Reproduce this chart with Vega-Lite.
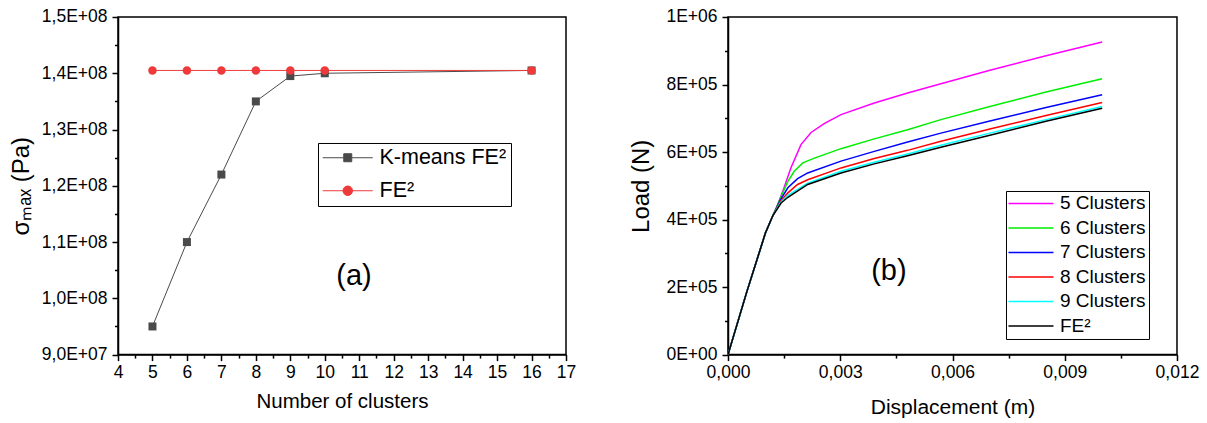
{
  "$schema": "https://vega.github.io/schema/vega-lite/v6.json",
  "background": "white",
  "padding": {"left": 8, "top": 7, "right": 0, "bottom": 0},
  "config": {
    "font": "Liberation Sans",
    "view": {"stroke": "black", "strokeWidth": 1.5},
    "axis": {
      "domainColor": "black", "domainWidth": 1.5,
      "tickColor": "black", "tickWidth": 1.5,
      "labelColor": "black", "labelFontSize": 17.5, "labelFont": "Liberation Sans",
      "titleColor": "black", "titleFontWeight": "normal", "titleFont": "Liberation Sans",
      "grid": false, "labelFlush": false, "labelOverlap": false
    },
    "legend": {"labelFont": "Liberation Sans", "labelColor": "black"}
  },
  "resolve": {"scale": {"color": "independent"}},
  "spacing": 52,
  "hconcat": [
    {
      "width": 448,
      "height": 337.6,
      "data": {"values": [
        {"n": 5, "s": 95000000, "series": "K-means FE²"},
        {"n": 6, "s": 110000000, "series": "K-means FE²"},
        {"n": 7, "s": 122000000, "series": "K-means FE²"},
        {"n": 8, "s": 135000000, "series": "K-means FE²"},
        {"n": 9, "s": 139500000, "series": "K-means FE²"},
        {"n": 10, "s": 140000000, "series": "K-means FE²"},
        {"n": 16, "s": 140500000, "series": "K-means FE²"},
        {"n": 5, "s": 140500000, "series": "FE²"},
        {"n": 6, "s": 140500000, "series": "FE²"},
        {"n": 7, "s": 140500000, "series": "FE²"},
        {"n": 8, "s": 140500000, "series": "FE²"},
        {"n": 9, "s": 140500000, "series": "FE²"},
        {"n": 10, "s": 140500000, "series": "FE²"},
        {"n": 16, "s": 140500000, "series": "FE²"}
      ]},
      "encoding": {
        "x": {"field": "n", "type": "quantitative",
          "scale": {"domain": [4, 17], "nice": false, "zero": false},
          "axis": {
            "title": "Number of clusters", "titleFontSize": 20.5, "titlePadding": 10,
            "values": [4,4.5,5,5.5,6,6.5,7,7.5,8,8.5,9,9.5,10,10.5,11,11.5,12,12.5,13,13.5,14,14.5,15,15.5,16,16.5,17],
            "labelExpr": "datum.value % 1 == 0 ? format(datum.value, 'd') : ''",
            "tickSize": {"condition": {"test": "datum.value % 1 != 0", "value": 3.5}, "value": 6},
            "labelPadding": 3
          }},
        "y": {"field": "s", "type": "quantitative",
          "scale": {"domain": [90000000, 150000000], "nice": false, "zero": false},
          "axis": {
            "title": "σₘₐₓ (Pa)", "titleFontSize": 24, "titlePadding": 8,
            "values": [90000000,95000000,100000000,105000000,110000000,115000000,120000000,125000000,130000000,135000000,140000000,145000000,150000000],
            "labelExpr": "datum.value % 10000000 != 0 ? '' : (datum.value < 100000000 ? replace(format(datum.value/10000000, '.1f'), '.', ',') + 'E+07' : replace(format(datum.value/100000000, '.1f'), '.', ',') + 'E+08')",
            "tickSize": {"condition": {"test": "datum.value % 10000000 != 0", "value": 3.5}, "value": 6},
            "labelPadding": 5
          }}
      },
      "layer": [
        {
          "mark": {"type": "line", "strokeWidth": 1},
          "encoding": {
            "color": {"field": "series", "type": "nominal",
              "scale": {"domain": ["K-means FE²", "FE²"], "range": ["#4a4a4a", "#ee3a3a"]},
              "legend": {
                "title": null, "orient": "none", "legendX": 200, "legendY": 126,
                "strokeColor": "black", "padding": 4, "labelFontSize": 21.5,
                "labelOffset": 36, "rowPadding": 10, "symbolSize": 100,
                "symbolType": "M-2,0H8", "symbolStrokeWidth": 1,
                "labelLimit": 300,
                "encode": {"symbols": {"update": {
                  "shape": {"signal": "datum.value === 'FE²' ? 'M-2,0H8M3.95,0A0.95,0.95,0,1,1,2.05,0A0.95,0.95,0,1,1,3.95,0Z' : 'M-2,0H8M2.2,-0.8H3.8V0.8H2.2Z'"},
                  "fill": {"signal": "datum.value === 'FE²' ? '#ee3a3a' : '#4a4a4a'"},
                  "stroke": {"signal": "datum.value === 'FE²' ? '#ee3a3a' : '#4a4a4a'"},
                  "strokeWidth": {"value": 1},
                  "opacity": {"value": 1}
                }}}
              }}
          }
        },
        {
          "transform": [{"filter": "datum.series === 'K-means FE²'"}],
          "mark": {"type": "point", "filled": true, "size": 64, "opacity": 1, "shape": "square", "color": "#4a4a4a"}
        },
        {
          "transform": [{"filter": "datum.series === 'FE²'"}],
          "mark": {"type": "point", "filled": true, "size": 72, "opacity": 1, "shape": "circle", "color": "#ee3a3a"}
        },
        {
          "transform": [{"filter": "datum.series === 'FE²' && datum.n == 5"}],
          "mark": {"type": "text", "fontSize": 29, "font": "Liberation Sans", "color": "black"},
          "encoding": {
            "x": {"datum": 10.85, "type": "quantitative"},
            "y": {"datum": 103900000, "type": "quantitative"},
            "text": {"value": "(a)"}
          }
        }
      ]
    },
    {
      "width": 449,
      "height": 337.6,
      "data": {"values": [
        {"d": 0, "load": 0, "curve": "5 Clusters"},
        {"d": 0.0005, "load": 185000, "curve": "5 Clusters"},
        {"d": 0.001, "load": 360000, "curve": "5 Clusters"},
        {"d": 0.0012, "load": 412000, "curve": "5 Clusters"},
        {"d": 0.00128, "load": 430000, "curve": "5 Clusters"},
        {"d": 0.0015, "load": 495000, "curve": "5 Clusters"},
        {"d": 0.00168, "load": 553000, "curve": "5 Clusters"},
        {"d": 0.00195, "load": 622000, "curve": "5 Clusters"},
        {"d": 0.00222, "load": 658000, "curve": "5 Clusters"},
        {"d": 0.00257, "load": 684000, "curve": "5 Clusters"},
        {"d": 0.00302, "load": 711000, "curve": "5 Clusters"},
        {"d": 0.00391, "load": 745000, "curve": "5 Clusters"},
        {"d": 0.0048, "load": 775000, "curve": "5 Clusters"},
        {"d": 0.00569, "load": 802000, "curve": "5 Clusters"},
        {"d": 0.007, "load": 842000, "curve": "5 Clusters"},
        {"d": 0.0085, "load": 885000, "curve": "5 Clusters"},
        {"d": 0.01, "load": 926000, "curve": "5 Clusters"},

        {"d": 0, "load": 0, "curve": "6 Clusters"},
        {"d": 0.0005, "load": 185000, "curve": "6 Clusters"},
        {"d": 0.001, "load": 360000, "curve": "6 Clusters"},
        {"d": 0.0012, "load": 412000, "curve": "6 Clusters"},
        {"d": 0.0014, "load": 463000, "curve": "6 Clusters"},
        {"d": 0.0016, "load": 513000, "curve": "6 Clusters"},
        {"d": 0.00177, "load": 543000, "curve": "6 Clusters"},
        {"d": 0.002, "load": 568000, "curve": "6 Clusters"},
        {"d": 0.00231, "load": 582000, "curve": "6 Clusters"},
        {"d": 0.00302, "load": 610000, "curve": "6 Clusters"},
        {"d": 0.00391, "load": 639000, "curve": "6 Clusters"},
        {"d": 0.0048, "load": 666000, "curve": "6 Clusters"},
        {"d": 0.00569, "load": 696000, "curve": "6 Clusters"},
        {"d": 0.007, "load": 735000, "curve": "6 Clusters"},
        {"d": 0.0085, "load": 778000, "curve": "6 Clusters"},
        {"d": 0.01, "load": 817000, "curve": "6 Clusters"},

        {"d": 0, "load": 0, "curve": "7 Clusters"},
        {"d": 0.0005, "load": 185000, "curve": "7 Clusters"},
        {"d": 0.001, "load": 360000, "curve": "7 Clusters"},
        {"d": 0.0012, "load": 412000, "curve": "7 Clusters"},
        {"d": 0.0014, "load": 458000, "curve": "7 Clusters"},
        {"d": 0.0016, "load": 494000, "curve": "7 Clusters"},
        {"d": 0.00186, "load": 521000, "curve": "7 Clusters"},
        {"d": 0.00213, "load": 538000, "curve": "7 Clusters"},
        {"d": 0.00302, "load": 573000, "curve": "7 Clusters"},
        {"d": 0.00391, "load": 602000, "curve": "7 Clusters"},
        {"d": 0.0048, "load": 630000, "curve": "7 Clusters"},
        {"d": 0.00569, "load": 656000, "curve": "7 Clusters"},
        {"d": 0.007, "load": 692000, "curve": "7 Clusters"},
        {"d": 0.0085, "load": 732000, "curve": "7 Clusters"},
        {"d": 0.01, "load": 770000, "curve": "7 Clusters"},

        {"d": 0, "load": 0, "curve": "8 Clusters"},
        {"d": 0.0005, "load": 185000, "curve": "8 Clusters"},
        {"d": 0.001, "load": 360000, "curve": "8 Clusters"},
        {"d": 0.0012, "load": 412000, "curve": "8 Clusters"},
        {"d": 0.0014, "load": 454000, "curve": "8 Clusters"},
        {"d": 0.0016, "load": 479000, "curve": "8 Clusters"},
        {"d": 0.00186, "load": 504000, "curve": "8 Clusters"},
        {"d": 0.00213, "load": 518000, "curve": "8 Clusters"},
        {"d": 0.00302, "load": 553000, "curve": "8 Clusters"},
        {"d": 0.00391, "load": 581000, "curve": "8 Clusters"},
        {"d": 0.0048, "load": 605000, "curve": "8 Clusters"},
        {"d": 0.00569, "load": 632000, "curve": "8 Clusters"},
        {"d": 0.007, "load": 668000, "curve": "8 Clusters"},
        {"d": 0.0085, "load": 708000, "curve": "8 Clusters"},
        {"d": 0.01, "load": 747000, "curve": "8 Clusters"},

        {"d": 0, "load": 0, "curve": "9 Clusters"},
        {"d": 0.0005, "load": 185000, "curve": "9 Clusters"},
        {"d": 0.001, "load": 360000, "curve": "9 Clusters"},
        {"d": 0.0012, "load": 412000, "curve": "9 Clusters"},
        {"d": 0.0014, "load": 450000, "curve": "9 Clusters"},
        {"d": 0.0016, "load": 472000, "curve": "9 Clusters"},
        {"d": 0.00213, "load": 508000, "curve": "9 Clusters"},
        {"d": 0.00302, "load": 543000, "curve": "9 Clusters"},
        {"d": 0.00391, "load": 570000, "curve": "9 Clusters"},
        {"d": 0.0048, "load": 594000, "curve": "9 Clusters"},
        {"d": 0.00569, "load": 620000, "curve": "9 Clusters"},
        {"d": 0.007, "load": 656000, "curve": "9 Clusters"},
        {"d": 0.0085, "load": 696000, "curve": "9 Clusters"},
        {"d": 0.01, "load": 735000, "curve": "9 Clusters"},

        {"d": 0, "load": 0, "curve": "FE²"},
        {"d": 0.0005, "load": 185000, "curve": "FE²"},
        {"d": 0.001, "load": 360000, "curve": "FE²"},
        {"d": 0.0012, "load": 412000, "curve": "FE²"},
        {"d": 0.00142, "load": 449000, "curve": "FE²"},
        {"d": 0.0016, "load": 466000, "curve": "FE²"},
        {"d": 0.00213, "load": 504000, "curve": "FE²"},
        {"d": 0.00302, "load": 538000, "curve": "FE²"},
        {"d": 0.00391, "load": 565000, "curve": "FE²"},
        {"d": 0.0048, "load": 589000, "curve": "FE²"},
        {"d": 0.00569, "load": 614000, "curve": "FE²"},
        {"d": 0.007, "load": 650000, "curve": "FE²"},
        {"d": 0.0085, "load": 691000, "curve": "FE²"},
        {"d": 0.01, "load": 730000, "curve": "FE²"}
      ]},
      "encoding": {
        "x": {"field": "d", "type": "quantitative",
          "scale": {"domain": [0, 0.012], "nice": false},
          "axis": {
            "title": "Displacement (m)", "titleFontSize": 21, "titlePadding": 15,
            "values": [0,0.0015,0.003,0.0045,0.006,0.0075,0.009,0.0105,0.012],
            "labelExpr": "abs(datum.value/0.003 - round(datum.value/0.003)) > 0.01 ? '' : replace(format(datum.value, '.3f'), '.', ',')",
            "tickSize": {"condition": {"test": "abs(datum.value/0.003 - round(datum.value/0.003)) > 0.01", "value": 3.5}, "value": 6},
            "labelPadding": 3
          }},
        "y": {"field": "load", "type": "quantitative",
          "scale": {"domain": [0, 1000000], "nice": false},
          "axis": {
            "title": "Load (N)", "titleFontSize": 24, "titlePadding": 12,
            "values": [0,100000,200000,300000,400000,500000,600000,700000,800000,900000,1000000],
            "labelExpr": "datum.value % 200000 != 0 ? '' : (datum.value == 0 ? '0E+00' : (datum.value >= 1000000 ? '1E+06' : format(datum.value/100000, 'd') + 'E+05'))",
            "tickSize": {"condition": {"test": "datum.value % 200000 != 0", "value": 3.5}, "value": 6},
            "labelPadding": 5
          }}
      },
      "layer": [
        {
          "mark": {"type": "line", "strokeWidth": 1.5},
          "encoding": {
            "color": {"field": "curve", "type": "nominal",
              "scale": {"domain": ["5 Clusters", "6 Clusters", "7 Clusters", "8 Clusters", "9 Clusters", "FE²"],
                        "range": ["#ff00ff", "#00ee00", "#0000ff", "#ff0000", "#00ffff", "#000000"]},
              "legend": {
                "title": null, "orient": "none", "legendX": 278, "legendY": 174,
                "strokeColor": "black", "padding": 3, "labelFontSize": 19,
                "labelOffset": 32, "rowPadding": 4.5, "symbolSize": 100,
                "symbolType": "M-2,0H7", "symbolStrokeWidth": 1.5,
                "labelLimit": 300
              }}
          }
        },
        {
          "transform": [{"filter": "datum.curve === 'FE²' && datum.d == 0"}],
          "mark": {"type": "text", "fontSize": 29, "font": "Liberation Sans", "color": "black"},
          "encoding": {
            "x": {"datum": 0.0043, "type": "quantitative"},
            "y": {"datum": 247000, "type": "quantitative"},
            "text": {"value": "(b)"}
          }
        }
      ]
    }
  ]
}
